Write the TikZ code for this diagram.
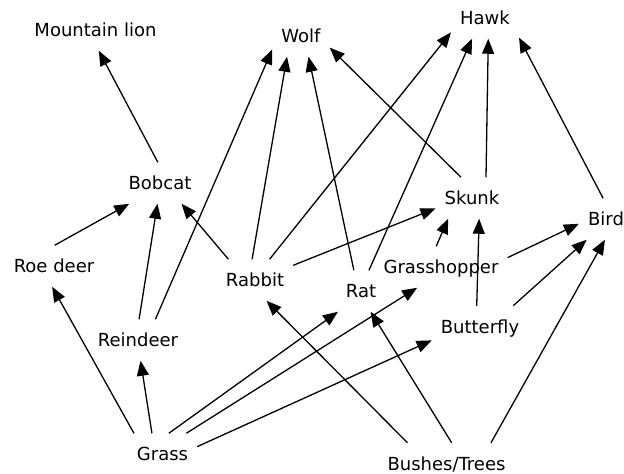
\documentclass[tikz,border=0pt]{standalone}
\usepackage{fontspec}
\setmainfont{DejaVu Sans}
\usetikzlibrary{arrows.meta}

\begin{document}
\begin{tikzpicture}[x=1pt, y=-1pt,
    every node/.style={rectangle, inner xsep=9pt, inner ysep=14pt, text height=13.1pt, text depth=0pt, font=\fontsize{18}{22}\selectfont},
    every edge/.style={draw=black, line width=1.3pt, -{Triangle[length=15pt,width=12pt]}}]
			\useasboundingbox (0,0) rectangle (624,474);

			% predators on top
			\node (lion) at (95.5,30){Mountain lion};
			\node (wolf) at (301,36){Wolf};
			\node (hawk) at (485,18){Hawk};
			\node (bobcat) at (160,183){Bobcat};
			\node (skunk) at (472,198){Skunk};
			\node (bird) at (606,219){Bird};

			% herbivores
			\node (roedeer) at (54,266){Roe deer};
			\node (rabbit) at (255,280){Rabbit};
			\node (reindeer) at (138,340){Reindeer};
			\node (rat) at (361,291){Rat};
			\node (hopper) at (441,267){Grasshopper};
			\node (butterfly) at (480,326.5){Butterfly};

			% plants
			\node (grass) at (162.5,454){Grass};
			\node (bushes) at (446.5,463.5){Bushes/Trees};

			\path (bobcat.96) edge (lion.-81);
			\path (roedeer.88) edge (bobcat.214);
			\path (reindeer.87) edge (bobcat.263);
			\path (reindeer.50) edge (wolf.205);
			\path (rabbit.142) edge (bobcat.-44);
			\path (rabbit.98) edge (wolf.236);
			\path (rabbit.55) edge (hawk.203);
			\path (rabbit.21) edge (skunk.196);
			\path (rat.109) edge (wolf.-70);
			\path (rat.69) edge (hawk.238);
			\path (skunk.118) edge (wolf.-22);
			\path (skunk.56) edge (hawk.-81);
			\path (bird.98) edge (hawk.-30);
			\path (hopper.103) edge (skunk.221);
			\path (butterfly.99) edge (skunk.-71);
			\path (hopper.8) edge (bird.190);
			\path (butterfly.32) edge (bird.227);
			\path (bushes.25) edge (bird.267);
			\path (grass.144) edge (roedeer.265);
			\path (grass.117) edge (reindeer.-83);
			\path (grass.73) edge (rat.222);
			\path (grass.41) edge (hopper.221);
			\path (grass.12) edge (butterfly.196);
			\path (bushes.152) edge (rabbit.-61);
			\path (bushes.76) edge (rat.-65);
\end{tikzpicture}
\end{document}
